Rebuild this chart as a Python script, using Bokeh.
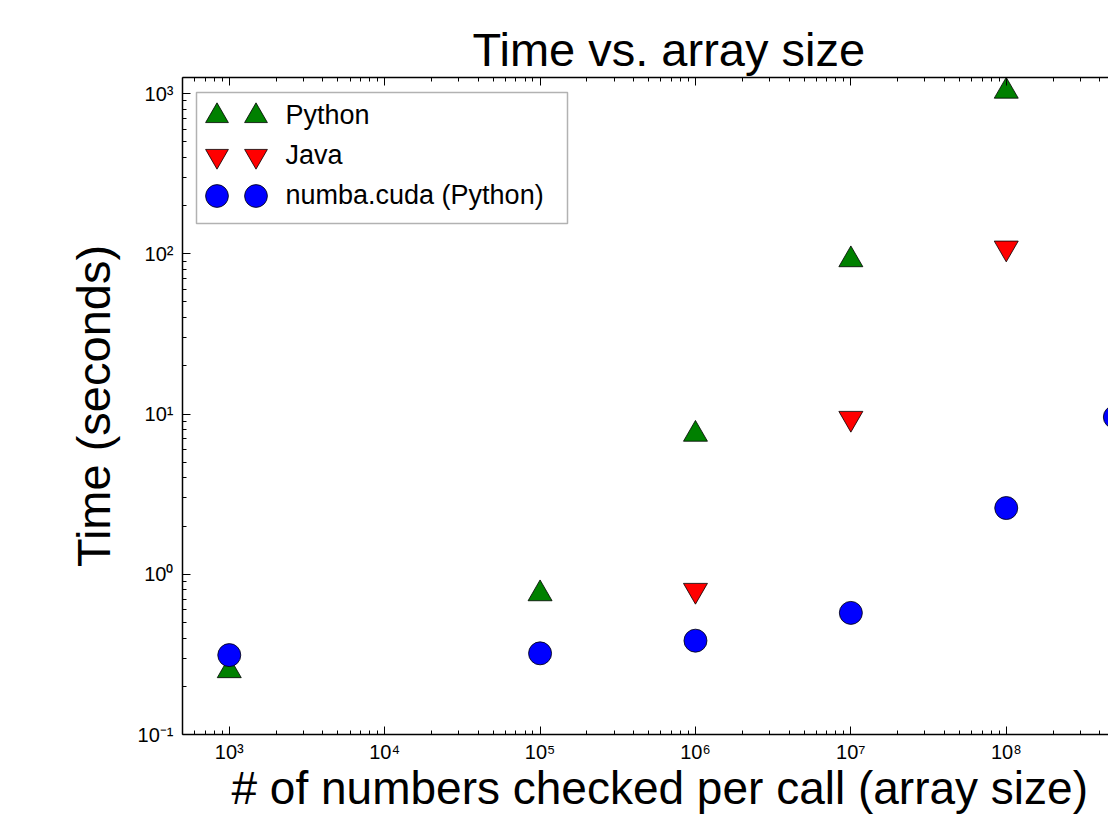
from bokeh.plotting import figure
from bokeh.models import (Range1d, FixedTicker, CustomJSTickFormatter, LogAxis,
                          Legend, LegendItem, BoxAnnotation, Title)
from bokeh.embed import file_html
from bokeh.resources import INLINE

# ---------------- data ----------------
sizes_python = [1e3, 1e5, 1e6, 1e7, 1e8]
time_python = [0.25, 0.755, 7.47, 91.7, 1033]

sizes_java = [1e6, 1e7, 1e8]
time_java = [0.794, 9.4, 108.6]

sizes_cuda = [1e3, 1e5, 1e6, 1e7, 1e8, 5e8]
time_cuda = [0.313, 0.321, 0.385, 0.574, 2.59, 9.57]

series_labels = ["Python", "Java", "numba.cuda (Python)"]

x_ticks = [1e3, 1e4, 1e5, 1e6, 1e7, 1e8, 1e9]
x_tick_labels = ["10\u00b3", "10\u2074", "10\u2075", "10\u2076", "10\u2077", "10\u2078", "10\u2079"]
y_ticks = [0.1, 1, 10, 100, 1000]
y_tick_labels = ["10\u207b\u00b9", "10\u2070", "10\u00b9", "10\u00b2", "10\u00b3"]

FONT = "Liberation Sans"

x_minor = [m * 10 ** d for d in range(2, 9) for m in range(2, 10)]
y_minor = [m * 10.0 ** d for d in range(-1, 4) for m in range(2, 10)]

p = figure(width=1108, height=817, x_axis_type="log", y_axis_type="log",
           x_range=Range1d(500, 4.55e8), y_range=Range1d(0.1, 1258.5),
           output_backend="svg", toolbar_location=None,
           min_border_left=182, min_border_right=0, min_border_top=77,
           min_border_bottom=83)
p.outline_line_color = None
p.xgrid.visible = False
p.ygrid.visible = False
p.background_fill_color = "white"
p.border_fill_color = "white"

fmt_code = """
const i = tvals.findIndex(t => Math.abs(t - tick) <= 1e-6 * Math.abs(t));
return i >= 0 ? tlabels[i] : "";
"""
xfmt = CustomJSTickFormatter(args=dict(tvals=x_ticks, tlabels=x_tick_labels), code=fmt_code)
yfmt = CustomJSTickFormatter(args=dict(tvals=y_ticks, tlabels=y_tick_labels), code=fmt_code)


def style_axis(ax):
    ax.axis_line_color = "black"
    ax.axis_line_width = 1.5
    ax.major_tick_in = 8
    ax.major_tick_out = 0
    ax.minor_tick_in = 4
    ax.minor_tick_out = 0
    ax.major_tick_line_color = "black"
    ax.minor_tick_line_color = "black"
    ax.major_tick_line_width = 1
    ax.minor_tick_line_width = 1
    ax.major_label_text_font = FONT
    ax.major_label_text_font_size = "20px"
    ax.major_label_text_color = "black"


xa = p.xaxis[0]
xa.ticker = FixedTicker(ticks=x_ticks, minor_ticks=x_minor)
xa.formatter = xfmt
style_axis(xa)
xa.major_label_text_font_size = "20px"
xa.major_label_standoff = 6

ya = p.yaxis[0]
ya.ticker = FixedTicker(ticks=y_ticks, minor_ticks=y_minor)
ya.formatter = yfmt
style_axis(ya)
ya.major_label_standoff = 9
ya.axis_label = "Time (seconds)"
ya.axis_label_text_font = FONT
ya.axis_label_text_font_size = "47px"
ya.axis_label_text_font_style = "normal"
ya.axis_label_text_color = "black"
ya.axis_label_standoff = 15

top = LogAxis(ticker=FixedTicker(ticks=x_ticks, minor_ticks=x_minor),
              formatter=CustomJSTickFormatter(code='return ""'))
style_axis(top)
top.major_label_text_font_size = "0px"
top.major_label_standoff = 0
p.add_layout(top, "above")

p.title.text = "Time vs. array size"
p.title.align = "left"
p.title.offset = 290
p.title.text_font = FONT
p.title.text_font_size = "47px"
p.title.text_font_style = "normal"
p.title.text_color = "black"
p.title.standoff = 4

xlabel = Title(text="# of numbers checked per call (array size)", align="left",
               offset=49, text_font=FONT, text_font_size="46px",
               text_font_style="normal", text_color="black", standoff=-8,
               vertical_align="top")
p.add_layout(xlabel, "below")

r_py = p.scatter(sizes_python, time_python, marker="triangle", size=24,
                 fill_color="#008000", line_color="black", line_width=0.8)
r_java = p.scatter(sizes_java, time_java, marker="inverted_triangle", size=24,
                   fill_color="#ff0000", line_color="black", line_width=0.8)
r_cuda = p.scatter(sizes_cuda, time_cuda, marker="circle", size=23,
                   fill_color="#0000ff", line_color="black", line_width=0.8)

# legend frame (screen units relative to the plot frame, origin bottom-left)
box = BoxAnnotation(left=14, right=385, top=642, bottom=511,
                    left_units="screen", right_units="screen",
                    top_units="screen", bottom_units="screen",
                    fill_color="white", fill_alpha=1.0,
                    line_color="black", line_width=1.5)
p.add_layout(box)

# one small legend per row and per key column (matplotlib shows two keys per entry)
renderers = [r_py, r_java, r_cuda]
common = dict(glyph_width=57, glyph_height=57, spacing=0, padding=0,
              border_line_color=None, background_fill_alpha=0,
              label_text_font=FONT, label_text_color="black")
row_bottoms = [590.5, 550.5, 510.5]
for lab, r, yb in zip(series_labels, renderers, row_bottoms):
    p.add_layout(Legend(items=[LegendItem(label=" ", renderers=[r])],
                        location=(44.5, yb), label_standoff=0,
                        label_text_font_size="1px", **common))
    p.add_layout(Legend(items=[LegendItem(label=lab, renderers=[r])],
                        location=(5.5, yb), label_standoff=41,
                        label_text_font_size="27px", **common))

open("out.html", "w").write(file_html(p, INLINE))
